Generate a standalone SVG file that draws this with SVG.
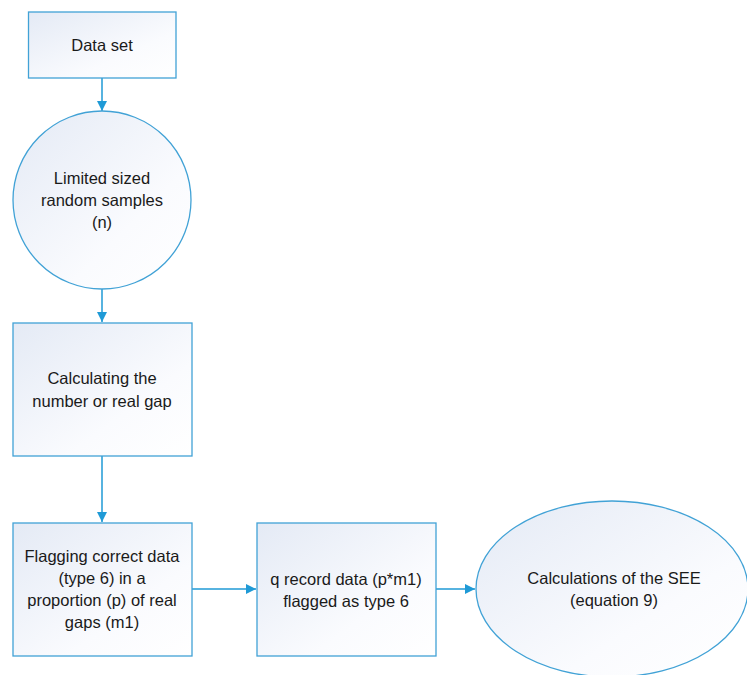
<svg xmlns="http://www.w3.org/2000/svg" width="747" height="675" viewBox="0 0 747 675">
<style>
.shape{stroke:#41a2d6;stroke-width:1.3;fill:url(#g)}
.t{font-family:"Liberation Sans",Arial,sans-serif;font-size:16.5px;fill:#1a1a1a;text-anchor:middle}
.c{stroke:#1f9ad6;stroke-width:1.5;fill:none;marker-end:url(#a)}
</style>
<defs>
<linearGradient id="g" x1="0" y1="0" x2="1" y2="1">
<stop offset="0" stop-color="#e4eaf5"/>
<stop offset="0.65" stop-color="#fafbfe"/>
<stop offset="1" stop-color="#ffffff"/>
</linearGradient>
<marker id="a" viewBox="0 0 10 10" refX="10" refY="5" markerWidth="10" markerHeight="10" markerUnits="userSpaceOnUse" orient="auto">
<path d="M0,0 L10,5 L0,10 z" fill="#1f9ad6"/>
</marker>
</defs>
<rect width="747" height="675" fill="#fff"/>
<g id="connectors">
<line class="c" x1="102" y1="78" x2="102" y2="111"/>
<line class="c" x1="102" y1="289" x2="102" y2="322"/>
<line class="c" x1="102" y1="456" x2="102" y2="522"/>
<line class="c" x1="192" y1="589" x2="256" y2="589"/>
<line class="c" x1="436" y1="589" x2="475" y2="589"/>
</g>
<g id="n1">
<rect class="shape" x="28.5" y="12" width="147.5" height="66"/>
<text class="t" x="102" y="51">Data set</text>
</g>
<g id="n2">
<circle class="shape" cx="102" cy="200" r="89"/>
<text class="t" x="102" y="184">Limited sized</text>
<text class="t" x="102" y="206">random samples</text>
<text class="t" x="102" y="228">(n)</text>
</g>
<g id="n3">
<rect class="shape" x="13" y="323" width="179" height="133"/>
<text class="t" x="102" y="384">Calculating the</text>
<text class="t" x="102" y="407">number or real gap</text>
</g>
<g id="n4">
<rect class="shape" x="13" y="523" width="179" height="133"/>
<text class="t" x="102" y="562">Flagging correct data</text>
<text class="t" x="102" y="584">(type 6) in a</text>
<text class="t" x="102" y="606">proportion (p) of real</text>
<text class="t" x="102" y="628">gaps (m1)</text>
</g>
<g id="n5">
<rect class="shape" x="257" y="523" width="179" height="133"/>
<text class="t" x="346" y="585">q record data (p*m1)</text>
<text class="t" x="346" y="607">flagged as type 6</text>
</g>
<g id="n6">
<ellipse class="shape" cx="612" cy="589" rx="136" ry="88"/>
<text class="t" x="614" y="584">Calculations of the SEE</text>
<text class="t" x="614" y="606">(equation 9)</text>
</g>
</svg>
